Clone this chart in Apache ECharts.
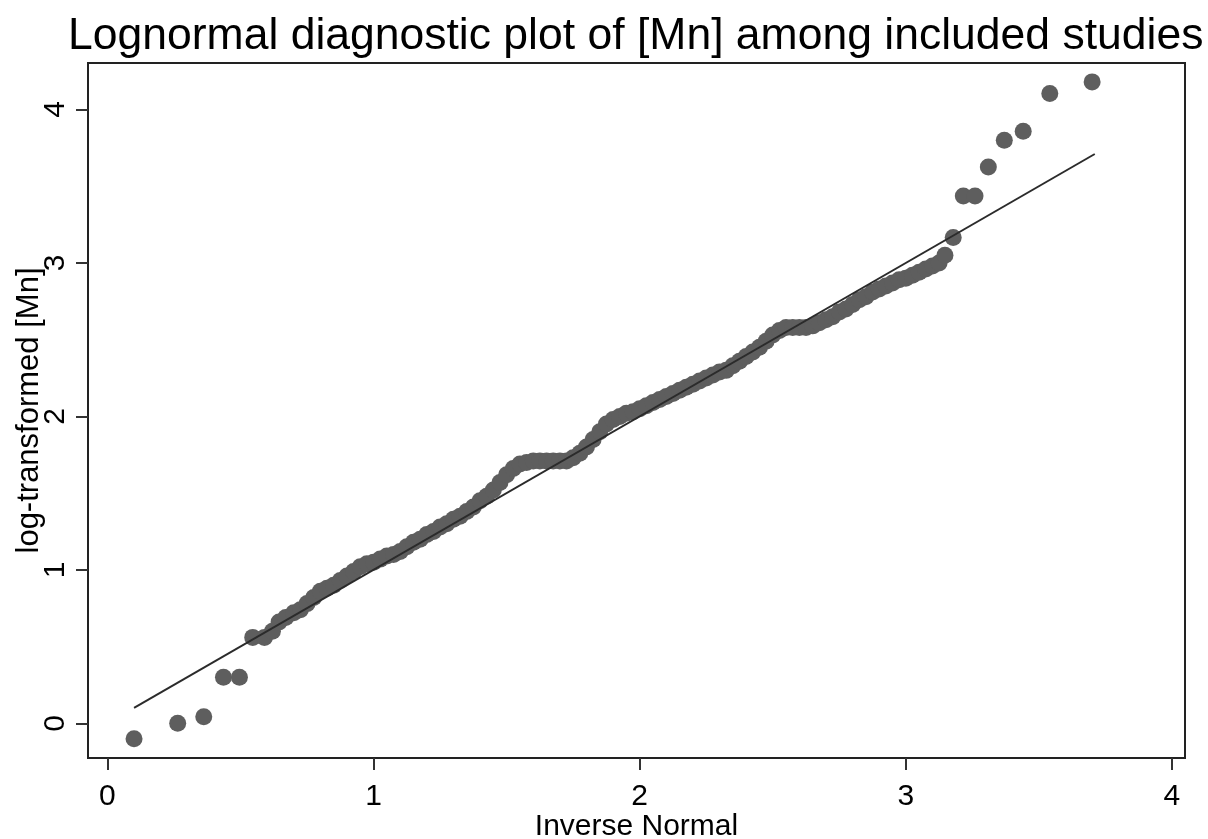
<!DOCTYPE html>
<html>
<head>
<meta charset="utf-8">
<title>Lognormal diagnostic plot</title>
<script src="https://cdn.jsdelivr.net/npm/echarts@6/dist/echarts.min.js"></script>
<style>
  html, body { margin: 0; padding: 0; background: #fff; }
  #chart { width: 1208px; height: 839px; }
</style>
</head>
<body>
<div id="chart"></div>
<script>
// inverse normal (x) and log-transformed [Mn] (y)
const invNormal = [
  0.10, 0.264, 0.362, 0.436, 0.496,
  0.546, 0.59, 0.62, 0.645, 0.67, 0.70, 0.725, 0.75, 0.775, 0.80, 0.825, 0.85, 0.875, 0.90, 0.925, 0.95, 0.975,
  1.00, 1.025, 1.05, 1.075, 1.10, 1.125, 1.15, 1.175, 1.20, 1.225, 1.25, 1.275, 1.30, 1.325, 1.35, 1.375,
  1.40, 1.425, 1.45, 1.475, 1.50, 1.525, 1.55, 1.575, 1.60, 1.625, 1.65, 1.675, 1.70, 1.725, 1.75, 1.775,
  1.80, 1.825, 1.85, 1.875, 1.90, 1.925, 1.95, 1.975, 2.00, 2.025, 2.05, 2.075, 2.10, 2.125, 2.15, 2.175,
  2.20, 2.225, 2.25, 2.275, 2.30, 2.325, 2.35, 2.375, 2.40, 2.425, 2.45, 2.475, 2.50, 2.525, 2.55, 2.575,
  2.60, 2.625, 2.65, 2.675, 2.70, 2.725, 2.75, 2.775, 2.80, 2.825, 2.85, 2.875, 2.90, 2.925, 2.95, 2.975,
  3.00, 3.025, 3.05, 3.075, 3.10, 3.125, 3.147,
  3.178, 3.216, 3.26, 3.31, 3.37, 3.441, 3.541, 3.70
];
const logMn = [
  -0.10, 0.00, 0.043, 0.30, 0.30,
  0.56, 0.56, 0.60, 0.66, 0.69, 0.72, 0.74, 0.78, 0.82, 0.86, 0.88, 0.90, 0.93, 0.96, 0.99, 1.02, 1.04,
  1.05, 1.07, 1.09, 1.10, 1.12, 1.15, 1.18, 1.20, 1.23, 1.25, 1.28, 1.30, 1.33, 1.35, 1.38, 1.41,
  1.45, 1.48, 1.52, 1.57, 1.62, 1.66, 1.69, 1.70, 1.71, 1.71, 1.71, 1.71, 1.71, 1.71, 1.73, 1.76,
  1.80, 1.85, 1.90, 1.95, 1.98, 2.00, 2.02, 2.03, 2.05, 2.07, 2.09, 2.11, 2.13, 2.15, 2.17, 2.19,
  2.21, 2.23, 2.25, 2.27, 2.29, 2.30, 2.33, 2.36, 2.39, 2.42, 2.45, 2.49, 2.53, 2.56, 2.58, 2.58,
  2.58, 2.58, 2.59, 2.61, 2.63, 2.65, 2.68, 2.70, 2.73, 2.76, 2.78, 2.81, 2.83, 2.85, 2.87, 2.89,
  2.90, 2.92, 2.94, 2.96, 2.98, 3.00, 3.05,
  3.166, 3.437, 3.437, 3.626, 3.80, 3.858, 4.104, 4.18
];
// reference line (y = x) end points
const fitX = [0.10, 3.71];
const fitY = [0.10, 3.71];
const xTicks = [0, 1, 2, 3, 4];
const yTicks = [0, 1, 2, 3, 4];

const font = '"Liberation Sans", Arial, sans-serif';
const chart = echarts.init(document.getElementById('chart'));
chart.setOption({
  animation: false,
  backgroundColor: '#ffffff',
  title: {
    text: 'Lognormal diagnostic plot of [Mn] among included studies',
    left: 63,
    top: 9,
    textStyle: { fontFamily: font, fontSize: 44.5, fontWeight: 'normal', color: '#000' }
  },
  grid: {
    left: 88, right: 23, top: 63, bottom: 81,
    outerBoundsMode: 'none',
    containLabel: false,
    show: true, borderColor: '#222', borderWidth: 2, backgroundColor: '#fff'
  },
  xAxis: {
    type: 'value',
    min: -0.073,
    max: 4.049,
    name: 'Inverse Normal',
    nameLocation: 'middle',
    nameGap: 54,
    nameMoveOverlap: false,
    nameTextStyle: { fontFamily: font, fontSize: 30, color: '#000' },
    axisLine: { show: true, onZero: false, lineStyle: { color: '#222', width: 2 } },
    axisTick: { show: true, length: 12, customValues: xTicks, lineStyle: { color: '#333', width: 2 } },
    axisLabel: { customValues: xTicks, margin: 24, fontFamily: font, fontSize: 30, color: '#000' },
    splitLine: { show: false }
  },
  yAxis: {
    type: 'value',
    min: -0.226,
    max: 4.303,
    name: 'log-transformed [Mn]',
    nameLocation: 'middle',
    nameGap: 43,
    nameMoveOverlap: false,
    nameTextStyle: { fontFamily: font, fontSize: 31, color: '#000' },
    axisLine: { show: true, onZero: false, lineStyle: { color: '#222', width: 2 } },
    axisTick: { show: true, length: 12, customValues: yTicks, lineStyle: { color: '#333', width: 2 } },
    axisLabel: { customValues: yTicks, rotate: 90, margin: 17, fontFamily: font, fontSize: 30, color: '#000' },
    splitLine: { show: false }
  },
  series: [
    {
      type: 'scatter',
      data: invNormal.map((x, i) => [x, logMn[i]]),
      symbolSize: 17,
      itemStyle: { color: '#5e5e5e', opacity: 1 },
      z: 2
    },
    {
      type: 'line',
      data: fitX.map((x, i) => [x, fitY[i]]),
      symbol: 'none',
      lineStyle: { color: '#2b2b2b', width: 2 },
      z: 3
    }
  ]
});
</script>
</body>
</html>
